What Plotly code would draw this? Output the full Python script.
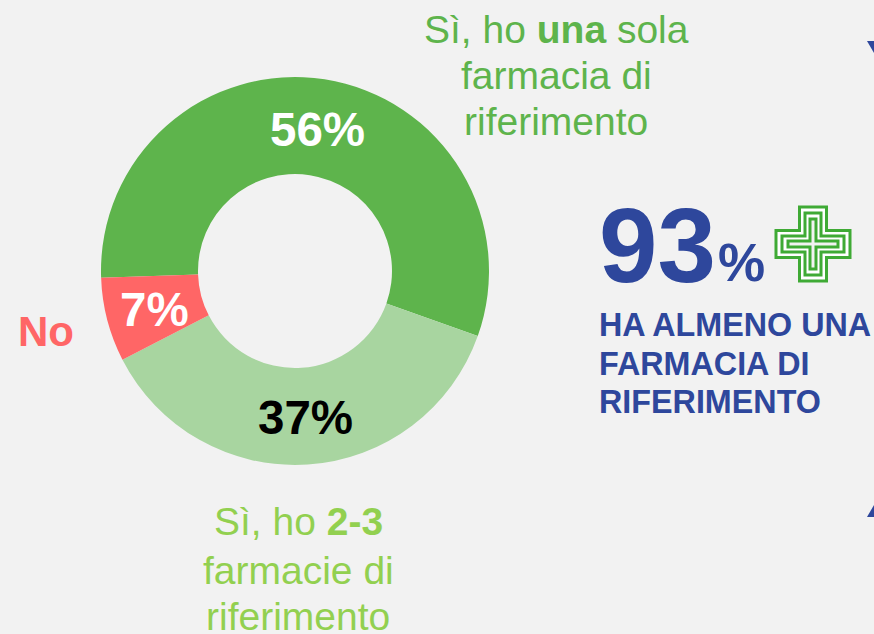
import plotly.graph_objects as go

W, H = 874, 634
categories = ["Sì, ho una sola farmacia di riferimento", "Sì, ho 2-3 farmacie di riferimento", "No"]
values = [56, 37, 7]
colors = ["#5EB44C", "#A8D5A0", "#FF6666"]
value_labels = ["56%", "37%", "7%"]
value_colors = ["white", "black", "white"]
FONT = "Liberation Sans"
BLUE = "#2E479C"


def px(x):
    return x / W


def py(y):
    return 1 - y / H


fig = go.Figure(go.Pie(
    labels=categories, values=values, hole=0.5, sort=False, direction="clockwise",
    rotation=268, textinfo="none", hoverinfo="label+percent",
    marker=dict(colors=colors, line=dict(width=0)),
    domain=dict(x=[px(101), px(489)], y=[py(465), py(77)]),
    showlegend=False,
))


def text(x, y, s, size, color, anchor="center", bold=False):
    if bold:
        s = f"<b>{s}</b>"
    fig.add_annotation(x=px(x), y=py(y), xref="paper", yref="paper", text=s, showarrow=False,
                       xanchor=anchor, yanchor="middle", align=anchor,
                       font=dict(family=FONT, size=size, color=color))


for s, c, pos in zip(value_labels, value_colors, [(317, 129), (305, 417), (154, 309)]):
    text(pos[0], pos[1], s, 47.5, c, bold=True)

LG = "#5EB44C"
LG2 = "#92D050"
text(556, 29, "Sì, ho <b>una</b> sola", 39, LG)
text(556, 75, "farmacia di", 39, LG)
text(556, 121, "riferimento", 39, LG)
text(298, 521, "Sì, ho <b>2-3</b>", 39, LG2)
text(298, 570, "farmacie di", 39, LG2)
text(298, 616, "riferimento", 39, LG2)
text(46, 331, "No", 42, "#FF6666", bold=True)

text(597, 245, "93", 105, BLUE, anchor="left", bold=True)
text(716, 262, "%", 53, BLUE, anchor="left", bold=True)
for y, s in zip([325, 364, 402], ["HA ALMENO UNA", "FARMACIA DI", "RIFERIMENTO"]):
    text(597, y, s, 32.3, BLUE, anchor="left", bold=True)


def cross(cx, cy, length, arm):
    pts = [(-arm, -length), (arm, -length), (arm, -arm), (length, -arm), (length, arm), (arm, arm),
           (arm, length), (-arm, length), (-arm, arm), (-length, arm), (-length, -arm), (-arm, -arm)]
    d = ""
    for i, (a, b) in enumerate(pts):
        d += f"{'M' if i == 0 else 'L'}{px(cx + a):.5f},{py(cy + b):.5f} "
    return d + "Z"


for length, arm, fill in [(37, 13.5, "white"), (31, 8, "white"), (25, 3, "#F2F2F2")]:
    fig.add_shape(type="path", xref="paper", yref="paper", path=cross(813, 244, length, arm),
                  fillcolor=fill, line=dict(color="#3FAA35", width=3))

for d in [[(867, 41), (874, 41), (874, 53)], [(867, 517), (874, 517), (874, 505)]]:
    path = "M" + " L".join(f"{px(a):.5f},{py(b):.5f}" for a, b in d) + " Z"
    fig.add_shape(type="path", xref="paper", yref="paper", path=path, fillcolor=BLUE, line=dict(width=0))

fig.update_layout(width=W, height=H, margin=dict(l=0, r=0, t=0, b=0), paper_bgcolor="#F2F2F2",
                  plot_bgcolor="#F2F2F2", font=dict(family=FONT))
fig.write_html("out.html", config=dict(displayModeBar=False),
               post_script="document.body.style.margin='0';document.body.style.background='#F2F2F2';"
                           "document.body.style.overflow='hidden';")
